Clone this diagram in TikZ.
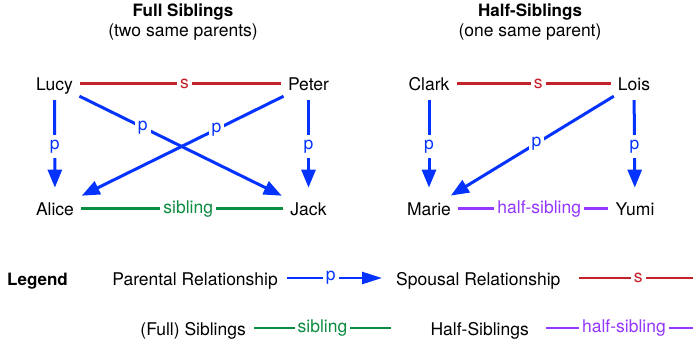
\documentclass[tikz,border=0pt]{standalone}
\usepackage{fontspec}
\setmainfont{TeX Gyre Heros}
\usetikzlibrary{arrows.meta}
\definecolor{parblue}{HTML}{0433FF}
\definecolor{spred}{HTML}{C4212B}
\definecolor{sibgreen}{HTML}{0B8C40}
\definecolor{halfpurple}{HTML}{9437FF}
\begin{document}
\begin{tikzpicture}[x=1pt,y=-1pt,
  txt/.style={font=\fontsize{17.5}{20}\selectfont, inner sep=0pt},
  person/.style={txt, text height=12.2pt, text depth=0pt, inner xsep=7pt, inner ysep=6pt, anchor=base},
  ttl/.style={font=\bfseries\fontsize{17}{20}\selectfont, inner sep=0pt, anchor=base},
  sub/.style={txt, anchor=base},
  parent/.style={draw=parblue, line width=3pt, -{Triangle[length=18pt,width=14pt]}},
  vshort/.style={shorten <=4pt, shorten >=9pt},
  spouse/.style={draw=spred, line width=3pt},
  sib/.style={draw=sibgreen, line width=3pt},
  halfsib/.style={draw=halfpurple, line width=3pt},
  legline/.style={line width=2.5pt},
  legarrow/.style={draw=parblue, line width=2.5pt, -{Triangle[length=20pt,width=12pt]}},
  lbl/.style={txt, fill=white, inner xsep=3pt, inner ysep=5pt},
]
\useasboundingbox (0,0) rectangle (693,345);

% ---------- Full siblings ----------
\node[ttl] (fulltitle) at (183,17) {Full Siblings};
\node[sub] (fullsub) at (183,37) {(two same parents)};

\node[person] (lucy)  at (54.5,90)  {Lucy};
\node[person] (peter) at (308.5,90) {Peter};
\node[person] (alice) at (55,215)   {Alice};
\node[person] (jack)  at (308.5,215){Jack};

\draw[spouse] (lucy) -- node[lbl, pos=0.52, text=spred] {s} (peter);
\draw[parent, vshort] (lucy) -- node[lbl, text=parblue] {p} (alice);
\draw[parent, vshort] (peter) -- node[lbl, text=parblue] {p} (jack);
\draw[parent, shorten >=2pt] (lucy) -- node[lbl, pos=0.31, text=parblue] {p} (jack);
\draw[parent, shorten >=2pt] (peter) -- node[lbl, pos=0.33, text=parblue] {p} (alice);
\draw[sib] (alice) -- node[lbl, pos=0.53, text=sibgreen] {sibling} (jack);

% ---------- Half-siblings ----------
\node[ttl] (halftitle) at (530,17) {Half-Siblings};
\node[sub] (halfsub) at (530,37) {(one same parent)};

\node[person] (clark) at (429,90)  {Clark};
\node[person] (lois)  at (634,90)  {Lois};
\node[person] (marie) at (429,215) {Marie};
\node[person] (yumi)  at (635,215) {Yumi};

\draw[spouse] (clark) -- node[lbl, pos=0.53, text=spred] {s} (lois);
\draw[parent, vshort] (clark) -- node[lbl, text=parblue] {p} (marie);
\draw[parent, vshort] (lois) -- node[lbl, text=parblue] {p} (yumi);
\draw[parent, shorten >=2pt] (lois) -- node[lbl, pos=0.47, text=parblue] {p} (marie);
\draw[halfsib] (marie) -- node[lbl, pos=0.54, text=halfpurple] {half-sibling} (yumi);

% ---------- Legend ----------
\node[ttl, anchor=base west] (legend) at (7,285) {Legend};

\node[sub, anchor=base east] (parlab) at (278,285) {Parental Relationship};
\coordinate (parA) at (287,278);
\coordinate (parB) at (382,278);
\draw[legarrow] (parA) -- node[lbl, pos=0.46, text=parblue] {p} (parB);

\node[sub, anchor=base west] (splab) at (396,285) {Spousal Relationship};
\coordinate (spA) at (579,278);
\coordinate (spB) at (693,278);
\draw[spouse, legline] (spA) -- node[lbl, pos=0.52, text=spred] {s} (spB);

\node[sub, anchor=base east] (siblab) at (246,335) {(Full) Siblings};
\coordinate (sibA) at (254,328);
\coordinate (sibB) at (391,328);
\draw[sib, legline] (sibA) -- node[lbl, text=sibgreen] {sibling} (sibB);

\node[sub, anchor=base east] (hslab) at (529,335) {Half-Siblings};
\coordinate (hsA) at (546,328);
\coordinate (hsB) at (693,328);
\draw[halfsib, legline] (hsA) -- node[lbl, pos=0.53, text=halfpurple] {half-sibling} (hsB);
\end{tikzpicture}
\end{document}
